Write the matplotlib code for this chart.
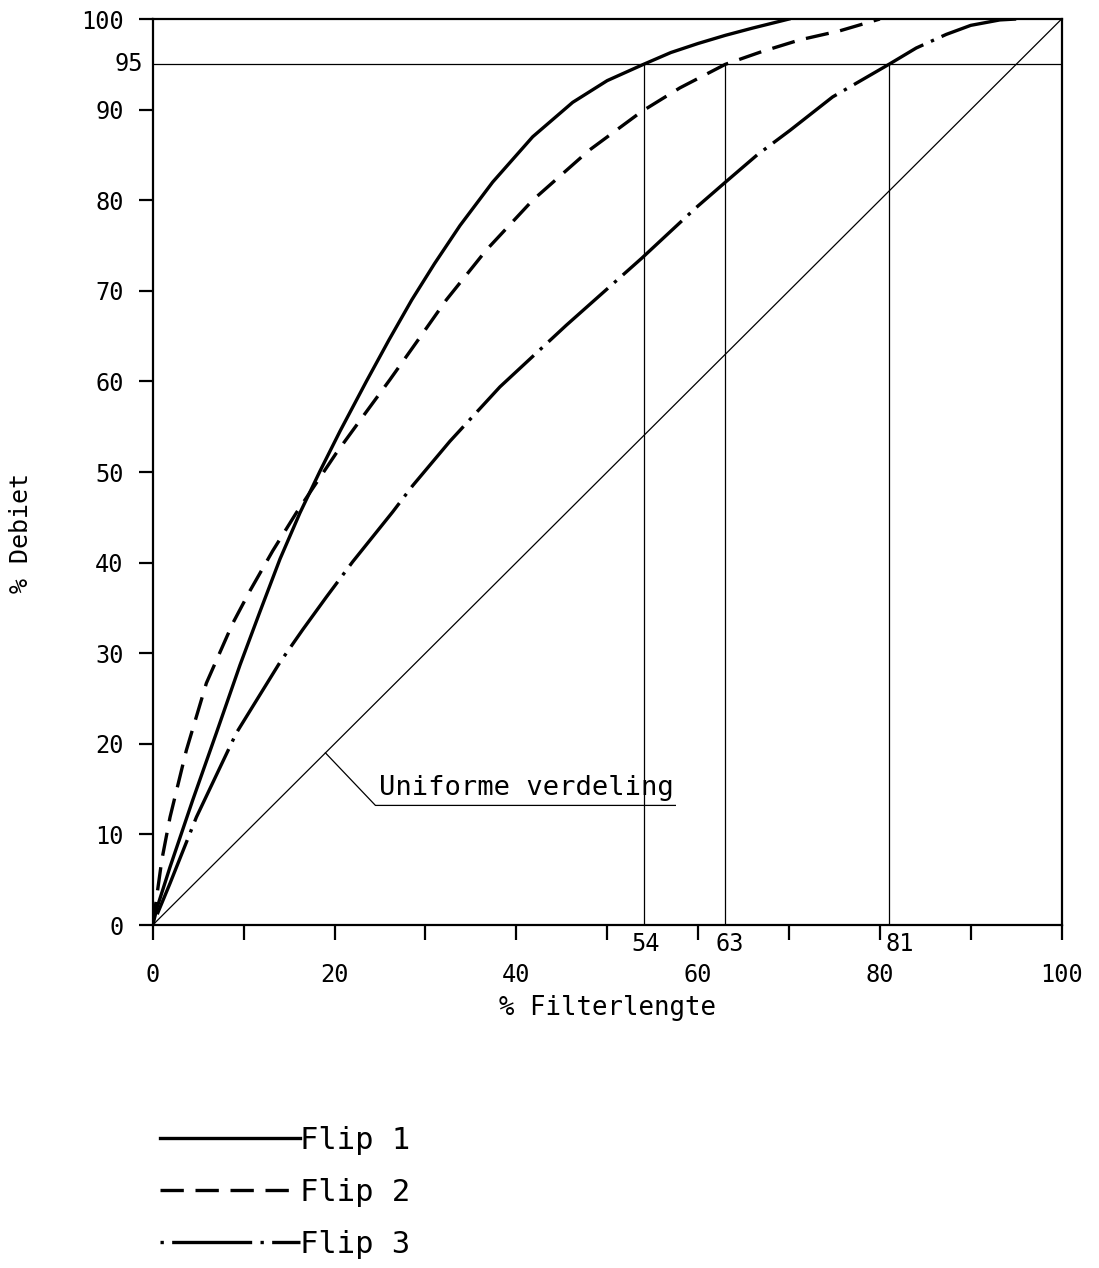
import matplotlib
matplotlib.use("Agg")
import matplotlib.pyplot as plt

plt.rcParams['font.family'] = ['DejaVu Sans Mono', 'DejaVu Sans']

# Cumulative flow (% Debiet) against relative filter length (% Filterlengte)
flip1_x = [0, 0.5, 1.9, 4.4, 7.0, 9.6, 11.8, 14.0, 16.2, 18.4, 20.6, 23.5, 26.0,
           28.5, 31.0, 33.8, 37.4, 41.8, 46.2, 50, 54, 57, 60, 63, 66, 70]
flip1_y = [0, 2.0, 6.4, 13.8, 21.2, 28.7, 34.6, 40.4, 45.5, 50.1, 54.5, 60.0, 64.6,
           69.0, 73.0, 77.2, 82.0, 87.0, 90.8, 93.2, 95, 96.3, 97.3, 98.2, 99.0, 100]

flip2_x = [0, 1.0, 1.9, 3.7, 5.9, 8.8, 10.7, 13.2, 15.8, 18.4, 20.2, 23.1, 26.1,
           29.0, 32.3, 36.7, 41.8, 48.0, 53.8, 58, 63, 67, 71.2, 75.6, 80]
flip2_y = [0, 7.2, 11.9, 19.3, 26.7, 33.3, 36.9, 41.3, 45.5, 49.4, 52.1, 56.1, 60.2,
           64.3, 69.0, 74.5, 80.0, 85.5, 89.8, 92.4, 95, 96.4, 97.7, 98.7, 100]

flip3_x = [0, 1.9, 4.8, 9.2, 14.0, 16.5, 19.1, 22.0, 26.4, 28.6, 32.7, 38.2, 45.5,
           53.8, 59.8, 62.9, 66.5, 70.1, 74.8, 81, 84, 87.3, 90, 93.2, 95]
flip3_y = [0, 4.6, 11.9, 21.2, 29.0, 32.6, 36.2, 40.1, 45.6, 48.5, 53.4, 59.4, 66.2,
           73.6, 79.2, 81.9, 85.0, 87.7, 91.4, 95, 96.8, 98.3, 99.3, 99.9, 100]

uniform_x = [0, 100]
uniform_y = [0, 100]

series_labels = ["Flip 1", "Flip 2", "Flip 3"]
level_95 = 95
marks_95 = [54, 63, 81]

x_ticks = list(range(0, 101, 10))
x_tick_labels = ["0", "", "20", "", "40", "", "60", "", "80", "", "100"]
y_ticks = list(range(0, 101, 10))

fig = plt.figure(figsize=(10.99, 12.68), dpi=100)
ax = fig.add_axes([0.139, 0.2705, 0.827, 0.7145])

lw = 2.4
ax.plot(flip1_x, flip1_y, color="black", lw=lw, linestyle="-",
        label=series_labels[0], solid_joinstyle="round")
ax.plot(flip2_x, flip2_y, color="black", lw=lw, linestyle=(0, (7, 3.5)),
        label=series_labels[1], dash_joinstyle="round")
ax.plot(flip3_x, flip3_y, color="black", lw=lw, linestyle=(26.5, (24, 2.5, 1, 2.5)),
        label=series_labels[2], dash_joinstyle="round")

# uniform distribution reference line
ax.plot(uniform_x, uniform_y, color="black", lw=0.9)

# 95 % level and the filter lengths where each curve reaches it
ax.plot([0, 100], [level_95, level_95], color="black", lw=0.9)
for xm in marks_95:
    ax.plot([xm, xm], [0, level_95], color="black", lw=0.9)

# leader line for the uniform-distribution annotation
ax.plot([19, 24.5, 57.5], [19, 13.2, 13.2], color="black", lw=0.9)
ax.text(24.9, 14.3, "Uniforme verdeling", fontsize=19.5, ha="left", va="baseline")

ax.set_xlim(0, 100)
ax.set_ylim(0, 100)
ax.set_xticks(x_ticks)
ax.set_xticklabels(x_tick_labels)
ax.set_yticks(y_ticks)
ax.set_yticklabels([str(v) for v in y_ticks])
ax.tick_params(axis="x", direction="out", length=11, width=1.6, pad=16, labelsize=17)
ax.tick_params(axis="y", direction="out", length=10, width=1.6, pad=11, labelsize=17)
for s in ax.spines.values():
    s.set_linewidth(1.6)

# extra labels on the axes
ax.text(-1.1, level_95, "95", fontsize=17, ha="right", va="center")
label_pos = {54: 54.2, 63: 63.5, 81: 82.2}
for xm in marks_95:
    ax.text(label_pos[xm], -0.8, str(xm), fontsize=17, ha="center", va="top")

fig.text(0.019, 0.58, "% Debiet", rotation=90, fontsize=18, ha="center", va="center")
fig.text(0.553, 0.205, "% Filterlengte", fontsize=18.5, ha="center", va="center")

leg = ax.legend(loc="upper left", bbox_to_anchor=(0.1456, 0.1119),
                bbox_transform=fig.transFigure, frameon=False,
                handlelength=4.57, handletextpad=0.0, fontsize=22,
                labelspacing=0.75, borderaxespad=0, borderpad=0)

fig.savefig("out.png", dpi=100)
